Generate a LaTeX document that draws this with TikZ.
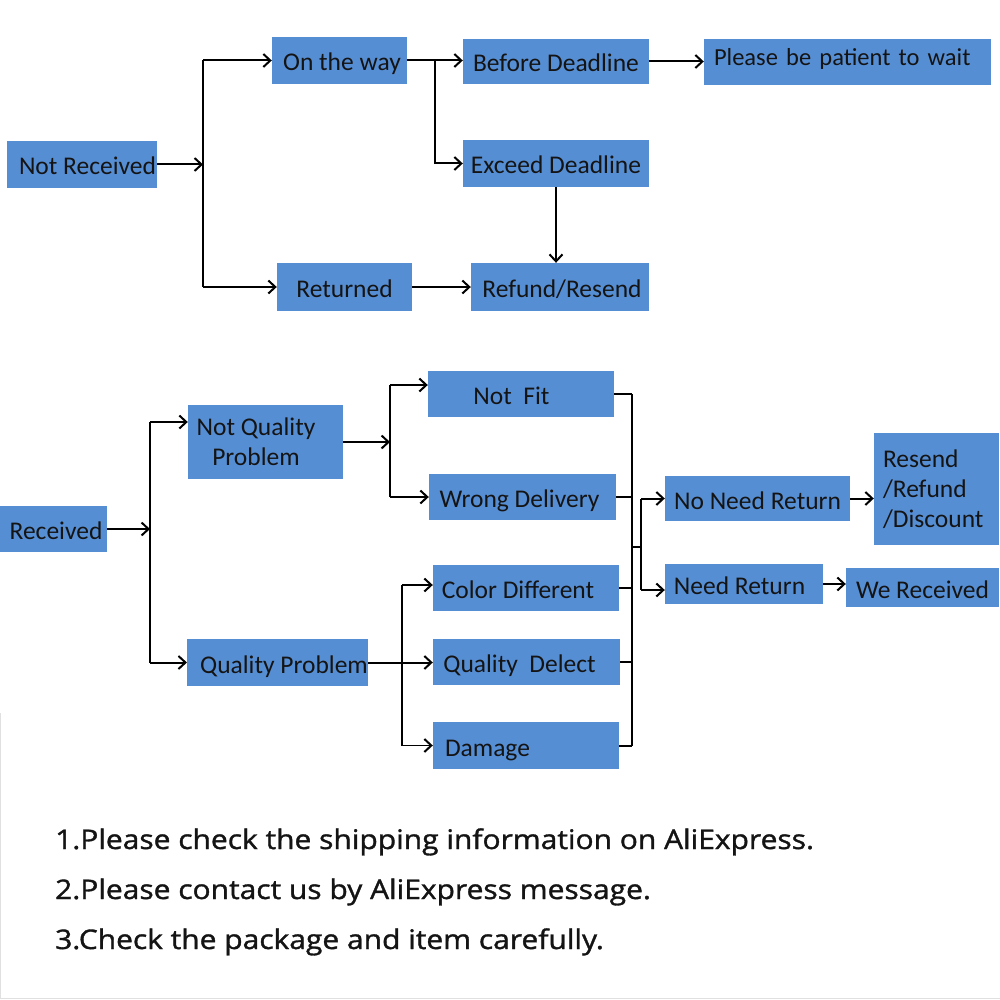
\documentclass[tikz,border=0pt]{standalone}
\usepackage{fontspec}
\usepackage{graphicx}
\setmainfont{Carlito}
\newfontfamily\notefont{Open Sans}[FakeBold=1.2]
\usetikzlibrary{arrows.meta}
\definecolor{boxblue}{RGB}{86,142,212}
\definecolor{inktext}{RGB}{20,20,20}
\tikzset{
  box/.style={rectangle, fill=boxblue, draw=none, inner sep=0pt, text=inktext,
    font=\fontsize{25.5}{30}\selectfont},
  box1/.style={box, text height=25pt, text depth=4pt},
  ln/.style={line width=2pt, draw=black},
  arr/.style={ln, -{Straight Barb[length=7pt,width=13pt,line width=2pt]}},
  thinarr/.style={line width=1.3pt, -{Straight Barb[length=7pt,width=13pt,line width=2pt]}},
  notetext/.style={anchor=base west, inner sep=0pt, text=inktext}
}
\newcommand{\notesize}{\notefont\fontsize{27}{32}\selectfont}
\newcommand{\noteline}[1]{\scalebox{1.11}[1]{\notesize #1}}
\begin{document}
\begin{tikzpicture}[x=1pt,y=-1pt]
\useasboundingbox (0,0) rectangle (1000,1000);
\fill[white] (0,0) rectangle (1000,1000);
\draw[black!12, line width=1pt] (0.5,713) -- (0.5,998.5) -- (1000,998.5);

% ---------- top part ----------
\node[box1, minimum width=150, minimum height=47] (nr) at (82,164.5) {\hspace*{11pt}Not Received};
\node[box1, minimum width=135, minimum height=47] (otw) at (339.5,60.5) {\hspace*{5pt}On the way};
\node[box1, minimum width=186, minimum height=45] (bd) at (556,61.5) {Before Deadline};
\node[box1, minimum width=287, minimum height=46, text width=267, align=left, inner xsep=10pt, font=\fontsize{24.5}{30}\selectfont] (pw) at (847.5,62) {\raisebox{7pt}{Please be patient to wait}};
\node[box1, minimum width=186, minimum height=47] (ed) at (556,163.5) {Exceed Deadline};
\node[box1, minimum width=135, minimum height=48] (ret) at (344.5,287) {Returned};
\node[box1, minimum width=178, minimum height=48] (rr) at (560,287) {\hspace*{4pt}Refund/Resend};

\coordinate (j1) at (203,164.5);
\coordinate (j1a) at (203,60.5);
\coordinate (j1b) at (203,287);
\draw[ln] (j1a) -- (j1b);
\draw[arr] (nr.east) -- (j1);
\draw[arr] (j1a) -- (otw.west);
\draw[arr] (j1b) -- (ret.west);

\coordinate (j2) at (435,60.5);
\draw[arr] (otw.east) -- (otw.east -| bd.west);
\draw[arr] (j2) |- (ed.west);
\draw[arr] (bd.east) -- (bd.east -| pw.west);
\draw[arr] (ed.south) -- (ed.south |- rr.north);
\draw[arr] (ret.east) -- (rr.west);

% ---------- bottom part ----------
\node[box1, minimum width=107, minimum height=46] (rec) at (53.5,529) {\hspace*{5pt}Received};
\node[box, minimum width=155, minimum height=74, align=center] (nqp) at (265.5,442) {\hspace*{-19pt}Not Quality\\\hspace*{-19pt}Problem};
\node[box1, minimum width=177, minimum height=47] (qp) at (277.5,662.5) {\hspace*{13pt}Quality Problem};
\node[box1, minimum width=186, minimum height=46] (nf) at (521,394) {\hspace*{-19pt}Not\ \ Fit};
\node[box1, minimum width=187, minimum height=46] (wd) at (522.5,497) {\hspace*{-6pt}Wrong Delivery};
\node[box1, minimum width=186, minimum height=46] (cd) at (526,588) {\hspace*{-16pt}Color Different};
\node[box1, minimum width=187, minimum height=46] (qd) at (526.5,662) {\hspace*{-14pt}Quality\ \ Delect};
\node[box1, minimum width=186, minimum height=47, text width=162, align=left, inner xsep=12pt] (dmg) at (526,745.5) {Damage};
\node[box1, minimum width=185, minimum height=45] (nnr) at (757.5,498.5) {No Need Return};
\node[box1, minimum width=158, minimum height=40] (ned) at (744,584) {\hspace*{-9pt}Need Return};
\node[box, minimum width=125, minimum height=112, text width=107, align=left, inner xsep=9pt] (rrd) at (936.5,489) {Resend\\/Refund\\/Discount};
\node[box1, minimum width=153, minimum height=39] (wr) at (922.5,587.5) {We Received};

\coordinate (r0) at (150,529);
\coordinate (r1) at (150,422);
\coordinate (r2) at (150,662.5);
\draw[ln] (r1) -- (r2);
\draw[arr] (rec.east) -- (r0);
\draw[arr] (r1) -- (r1 -| nqp.west);
\draw[arr] (r2) -- (r2 -| qp.west);

\coordinate (n0) at (390,442);
\coordinate (n1) at (390,385);
\coordinate (n2) at (390,497);
\draw[ln] (n1) -- (n2);
\draw[arr] (nqp.east) -- (n0);
\draw[arr] (n1) -- (n1 -| nf.west);
\draw[arr] (n2) -- (wd.west);

\draw[arr] (qp.east) -- (qp.east -| qd.west);
\coordinate (q1) at (402,585);
\coordinate (q2) at (402,745.5);
\draw[line width=1.3pt] (q1) -- (q2);
\draw[thinarr] (q1) -- (q1 -| cd.west);
\draw[thinarr] (q2) -- (dmg.west);

\coordinate (c1) at (632,394);
\coordinate (c2) at (632,745.5);
\draw[ln] (c1) -- (c2);
\draw[ln] (nf.east) -- (c1);
\draw[ln] (wd.east) -- (wd.east -| c1);
\draw[ln] (cd.east) -- (cd.east -| c1);
\draw[ln] (qd.east) -- (qd.east -| c1);
\draw[ln] (dmg.east) -- (c2);

\coordinate (b0) at (632,547);
\coordinate (m0) at (641,547);
\coordinate (m1) at (641,498.5);
\coordinate (m2) at (641,590);
\draw[ln] (b0) -- (m0);
\draw[ln] (m1) -- (m2);
\draw[arr] (m1) -- (nnr.west);
\draw[arr] (m2) -- (m2 -| ned.west);
\draw[arr] (nnr.east) -- (nnr.east -| rrd.west);
\draw[arr] (ned.east) -- (ned.east -| wr.west);

% ---------- notes ----------
\node[notetext] (t1) at (55,849) {\noteline{1.Please check the shipping information on AliExpress.}};
\node[notetext] (t2) at (55,899) {\noteline{2.Please contact us by AliExpress message.}};
\node[notetext] (t3) at (55,949) {\noteline{3.Check the package and item carefully.}};
\end{tikzpicture}
\end{document}
